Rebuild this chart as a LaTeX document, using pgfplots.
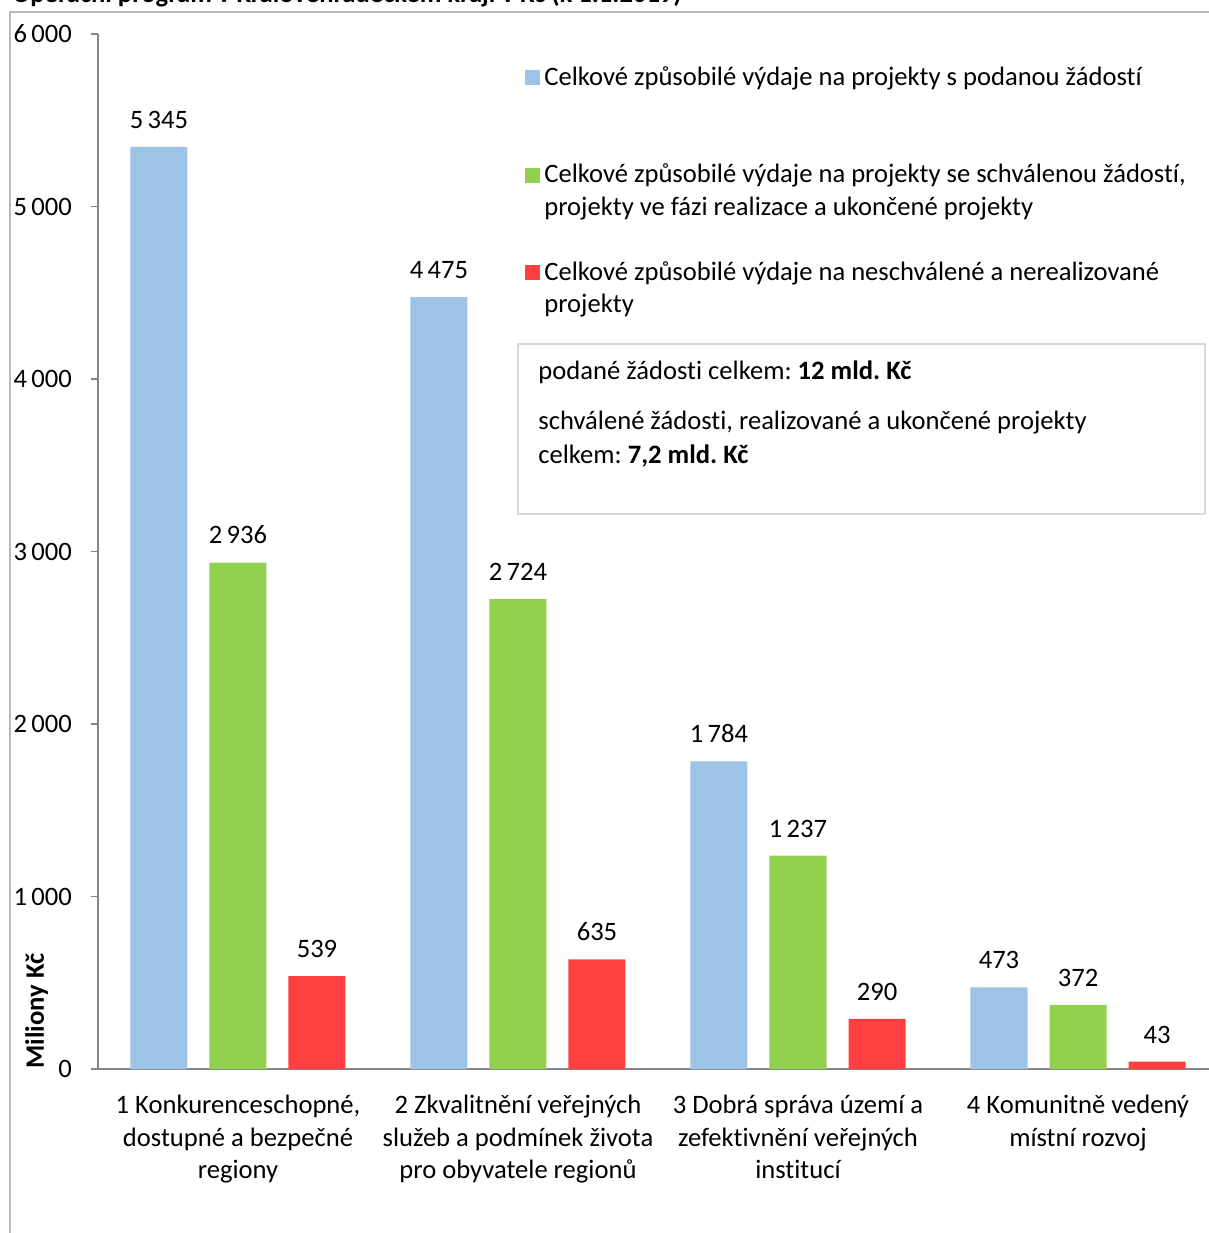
\documentclass[border=0pt]{standalone}
\usepackage{fontspec}
\setmainfont{Carlito}[Ligatures=NoCommon]
\usepackage{pgfplots}
\pgfplotsset{compat=1.18}
\definecolor{cblue}{HTML}{9DC3E6}
\definecolor{cgreen}{HTML}{92D050}
\definecolor{cred}{HTML}{FF4040}
\definecolor{axgray}{HTML}{868686}
\newcommand{\fs}{\fontsize{13.3pt}{16.25pt}\selectfont}
\frenchspacing
\begin{document}
\begin{tikzpicture}[font=\fs]
\draw[gray!55, line width=0.6pt] (-44pt,-90pt) -- (-44pt,528.5pt) -- (600pt,528.5pt);
\node[anchor=base west, inner sep=0pt, font=\fs\bfseries] at (-43pt,533pt) {Operační program v Královéhradeckém kraji v Kč (k 1.1.2019)};
\begin{axis}[
  at={(0pt,0pt)}, anchor=south west,
  scale only axis, width=560pt, height=517.5pt,
  ybar=11pt, bar width=28.5pt,
  xmin=-0.5, xmax=3.5, ymin=0, ymax=6000,
  axis x line*=bottom, axis y line*=left,
  axis line style={axgray, line width=0.6pt},
  every axis line/.append style={-},
  tick style={axgray, line width=0.6pt},
  tick align=outside,
  major tick length=3.5pt,
  ytick={0,1000,...,6000},
  /pgf/number format/.cd, 1000 sep={\,}, assume math mode=true,
  /pgfplots/.cd,
  yticklabel style={anchor=east, xshift=-6pt, font=\fs},
  xtick={0,1,2,3},
  xticklabels={{1 Konkurenceschopné,\\dostupné a bezpečné\\regiony},
               {2 Zkvalitnění veřejných\\služeb a podmínek života\\pro obyvatele regionů},
               {3 Dobrá správa území a\\zefektivnění veřejných\\institucí},
               {4 Komunitně vedený\\místní rozvoj}},
  xticklabel style={align=center, anchor=north, yshift=-6pt, font=\fs},
  x tick style={draw=none},
  extra x ticks={0.5,1.5,2.5},
  extra x tick labels={},
  extra x tick style={tick style={axgray, line width=0.6pt, draw=axgray}, major tick length=4pt},
  nodes near coords,
  nodes near coords style={font=\fs, anchor=south, inner sep=0pt, yshift=9pt},
  legend cell align=left,
  legend style={at={(0.3759,0.977)}, anchor=north west, draw=none, fill=none,
    font=\fs, row sep=17.6pt, cells={align=left}},
  legend image code/.code={\fill[#1] (-2pt,4pt) rectangle (5.5pt,11.5pt);},
  clip=false,
]
\addplot[fill=cblue, draw=none] coordinates {(0,5345) (1,4475) (2,1784) (3,473)};
\addlegendentry{Celkové způsobilé výdaje na projekty s podanou žádostí\\\strut}
\addplot[fill=cgreen, draw=none] coordinates {(0,2936) (1,2724) (2,1237) (3,372)};
\addlegendentry{Celkové způsobilé výdaje na projekty se schválenou žádostí,\\projekty ve fázi realizace a ukončené projekty}
\addplot[fill=cred, draw=none] coordinates {(0,539) (1,635) (2,290) (3,43)};
\addlegendentry{Celkové způsobilé výdaje na neschválené a nerealizované\\projekty}
\end{axis}
\node[rotate=90, anchor=base west, inner sep=0pt, font=\fs\bfseries] at (-27pt,0pt) {Miliony Kč};
\draw[gray!30, line width=1pt] (210pt,277.5pt) rectangle (553.5pt,362.5pt);
\node[anchor=base west, inner sep=0pt] at (220pt,344.5pt) {podané žádosti celkem: \textbf{12 mld. Kč}};
\node[anchor=base west, inner sep=0pt] at (220pt,319.5pt) {schválené žádosti, realizované a ukončené projekty};
\node[anchor=base west, inner sep=0pt] at (220pt,302.5pt) {celkem: \textbf{7,2 mld. Kč}};
\pgfresetboundingbox
\path[use as bounding box] (-49pt,-82pt) rectangle (555.5pt,534.5pt);
\end{tikzpicture}
\end{document}
